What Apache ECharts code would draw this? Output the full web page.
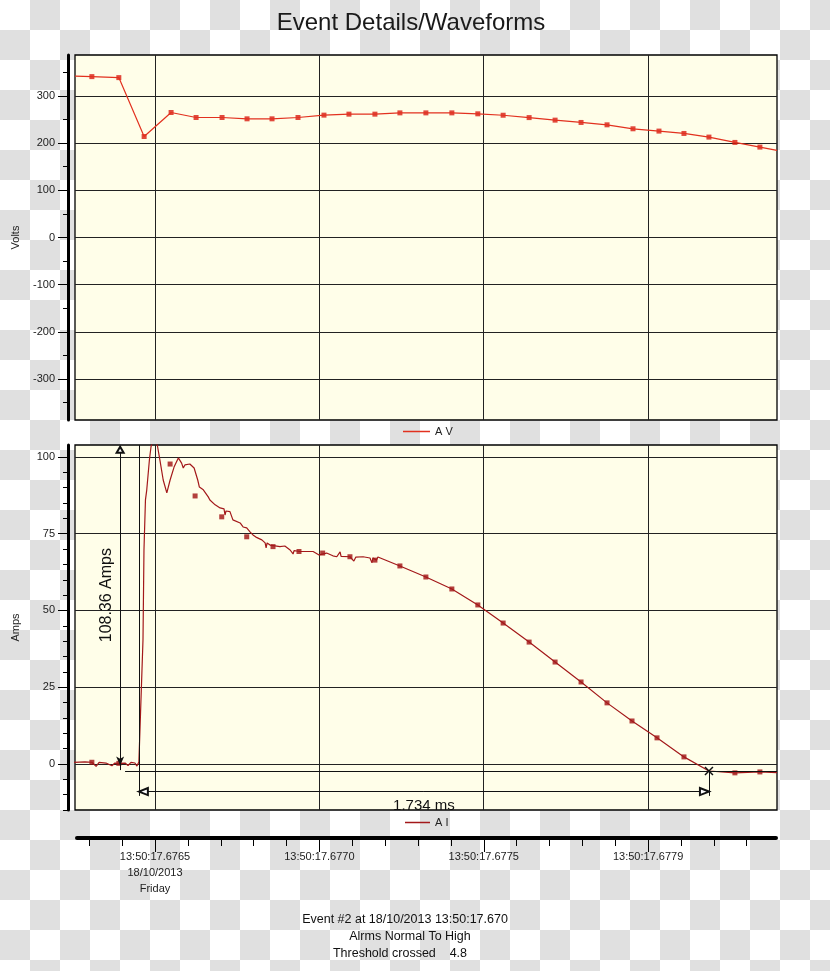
<!DOCTYPE html>
<html>
<head>
<meta charset="utf-8">
<script src="https://cdn.jsdelivr.net/npm/echarts@6/dist/echarts.min.js"></script>
<style>
html,body{margin:0;padding:0;}
#c{width:830px;height:971px;background:repeating-conic-gradient(#e0e0e0 0% 25%, #ffffff 0% 50%) 0 0/60px 60px;}
</style>
</head>
<body>
<div id="c"></div>
<script>
// ---- time axis: microseconds after 13:50:17.6765 ----
const timeMin = -243.3;
const timeMax = 1892;
const timeMajor = [0, 500, 1000, 1500];
const timeMinor = [-200,-100,0,100,200,300,400,500,600,700,800,900,1000,1100,1200,1300,1400,1500,1600,1700,1800];
const timeLabels = ['13:50:17.6765\n18/10/2013\nFriday', '13:50:17.6770', '13:50:17.6775', '13:50:17.6779'];

// ---- Volts panel ----
const voltMin = -386.6, voltMax = 386.6;
const voltTicks = [-300,-200,-100,0,100,200,300];
const voltMinorTicks = [-350,-250,-150,-50,50,150,250,350];
const voltTimes  = [-192,-110,-33,49,125,204,280,356,435,514,590,669,745,824,903,982,1059,1138,1217,1296,1375,1454,1533,1609,1685,1764,1840];
const voltValues = [340.8,338.7,214,264.8,254.2,254.2,251.4,251.4,254.2,259.2,261.3,261.3,264,264,264,262,259,254,248.6,243.7,238.7,230.3,225.4,220.4,212.7,201.4,191.5];
const voltEdgeTimes  = [-243, 1892];
const voltEdgeValues = [342, 184.5];

// ---- Amps panel ----
const ampMin = -15, ampMax = 103.9;
const ampTicks = [0,25,50,75,100];
const ampMinorTicks = [-15,-10,-5,5,10,15,20,30,35,40,45,55,60,65,70,80,85,90,95];
const ampWaveTimes = [-246,-213,-192,-179,-170,-149,-131,-122,-110,-91,-82,-73,-61,-55,-49,-43,-36.5,-33.5,-29,-25,-21,-17,-12,-6,0,7,15,25,36,46,58,71,81,86,91,106,119,130,135,147,162,167,183,198,210,213,216,228,237,259,268,279,289,298,307,325,335,338,341,350,380,395,411,420,423,441,481,499,502,522,541,553,563,566,593,605,611,633,654,660,663,674,678,745,824,903,982,1059,1138,1217,1296,1375,1451,1527,1609,1685,1764,1840,1892];
const ampWaveValues = [0.5,0.65,0.55,-0.8,0.5,0.3,-0.6,0.3,0.2,0.3,-0.5,0.5,0.3,-0.7,0.6,0.6,40.4,69.7,86,89.3,89.9,99,103.4,105.5,105.2,103.9,99,92.5,88.3,92.5,96.7,99.7,98,96.4,97.4,97.7,96.4,92.5,90.2,89.3,87,86,84.4,83.4,83.1,81.1,82.4,82.2,79.5,78.5,77.2,76.9,75.6,74.6,73.9,73.0,72.0,70.4,72.0,71.3,70.8,71.0,69.7,68.4,69.5,69.2,69.2,68.1,68.4,68.7,67.8,67.5,69.1,67.6,67.5,66.1,67.4,67.5,67.1,65.5,67.1,66.4,67.4,64.5,60.9,57.0,51.8,45.9,39.7,33.2,26.7,19.9,14.0,8.5,2.3,-2.3,-2.9,-2.6,-2.8];
const ampSampleTimes  = [-192,-110,46,122,203,279,359,438,510,593,669,745,824,903,982,1059,1138,1217,1296,1375,1451,1527,1609,1764,1840];
const ampSampleValues = [0.55,0.2,97.7,87.3,80.5,74.0,70.8,69.2,68.7,67.5,66.4,64.5,60.9,57.0,51.8,45.9,39.7,33.2,26.7,19.9,14.0,8.5,2.3,-2.9,-2.6];

// ---- cursor annotations ----
const peakCursorTime = -106, peakCursorFrom = -2.0, peakCursorTo = 103.3;
const peakLabel = '      108.36 Amps';
const startCursorTime = -49, endCursorTime = 1685;
const cursorBottom = -10.4;
const thresholdStart = -91, thresholdLevel = -2.4;
const spanLevel = -9.0;
const spanLabel = '1.734 ms';
const crossValue = -2.3;

const footerLines = ['Event #2 at 18/10/2013 13:50:17.670', 'Alrms Normal To High', 'Threshold crossed    4.8'];
const footerCenters = [405, 410, 400];

const FONT = '"Liberation Sans", Arial, sans-serif';
const zip = (a, b) => a.map((v, i) => [v, b[i]]);

const voltLineData = zip([voltEdgeTimes[0]].concat(voltTimes, [voltEdgeTimes[1]]),
                         [voltEdgeValues[0]].concat(voltValues, [voltEdgeValues[1]]));
const voltSampleData = zip(voltTimes, voltValues);
const ampWaveData = zip(ampWaveTimes, ampWaveValues);
const ampSampleData = zip(ampSampleTimes, ampSampleValues);

const plotGrid = (top) => ({left: 75, width: 702, top: top, height: 365, show: true,
  backgroundColor: '#fffee9', borderColor: '#000', borderWidth: 1.3});

const plotX = (gi) => ({gridIndex: gi, type: 'value', min: timeMin, max: timeMax, position: 'bottom',
  axisLine: {show: false}, axisTick: {show: false, customValues: timeMajor}, axisLabel: {show: false, customValues: timeMajor},
  splitLine: {show: true, lineStyle: {color: '#222', width: 1}}});

const mainY = (gi, mn, mx, ticks, name) => ({gridIndex: gi, type: 'value', min: mn, max: mx, position: 'left', offset: 7,
  axisLine: {show: true, onZero: false, lineStyle: {color: '#000', width: 3}},
  axisTick: {show: true, length: 10, customValues: ticks, lineStyle: {color: '#000', width: 1}},
  axisLabel: {show: true, customValues: ticks, margin: 13, color: '#222', fontSize: 11, fontFamily: FONT},
  splitLine: {show: true, lineStyle: {color: '#222', width: 1}},
  name: name, nameLocation: 'middle', nameRotate: 90, nameGap: 47,
  nameTextStyle: {color: '#222', fontSize: 11, fontFamily: FONT}});

const minorY = (gi, mn, mx, ticks) => ({gridIndex: gi, type: 'value', min: mn, max: mx, position: 'left', offset: 7,
  axisLine: {show: false, onZero: false}, axisTick: {show: true, length: 5, customValues: ticks, lineStyle: {color: '#000', width: 1}},
  axisLabel: {show: false, customValues: ticks}, splitLine: {show: false}});

const chart = echarts.init(document.getElementById('c'), null, {renderer: 'canvas'});
chart.setOption({
  animation: false,
  backgroundColor: 'transparent',
  title: {text: 'Event Details/Waveforms', left: 406, top: 6, textAlign: 'center',
    textStyle: {fontSize: 24, fontWeight: 'normal', color: '#1a1a1a', fontFamily: FONT}},
  legend: [
    {data: ['A V'], left: 403, top: 426, padding: 0, icon: 'rect', itemWidth: 27, itemHeight: 1.5, itemGap: 7,
      selectedMode: false, textStyle: {fontSize: 11, color: '#222', fontFamily: FONT}},
    {data: ['A I'], left: 405, top: 817, padding: 0, icon: 'rect', itemWidth: 25, itemHeight: 1.5, itemGap: 7,
      selectedMode: false, textStyle: {fontSize: 11, color: '#222', fontFamily: FONT}}
  ],
  grid: [plotGrid(55), plotGrid(445),
    {left: 77, width: 699, top: 837, height: 1, show: false},
    {left: 77, width: 699, top: 837, height: 1, show: false}],
  xAxis: [plotX(0), plotX(1),
    {gridIndex: 2, type: 'value', min: timeMin + 6, max: timeMax - 3, position: 'bottom',
      axisLine: {show: true, onZero: false, lineStyle: {color: '#000', width: 4}},
      axisTick: {show: true, length: 8, customValues: timeMinor, lineStyle: {color: '#000', width: 1}},
      axisLabel: {show: false, customValues: timeMinor}, splitLine: {show: false}},
    {gridIndex: 3, type: 'value', min: timeMin + 6, max: timeMax - 3, position: 'bottom',
      axisLine: {show: false, onZero: false},
      axisTick: {show: true, length: 14, customValues: timeMajor, lineStyle: {color: '#000', width: 1}},
      axisLabel: {show: true, customValues: timeMajor, margin: 11, color: '#222', fontSize: 11, lineHeight: 16, fontFamily: FONT,
        formatter: (v) => timeLabels[timeMajor.indexOf(Math.round(v))] || ''},
      splitLine: {show: false}}
  ],
  yAxis: [mainY(0, voltMin, voltMax, voltTicks, 'Volts'), minorY(0, voltMin, voltMax, voltMinorTicks),
          mainY(1, ampMin, ampMax, ampTicks, 'Amps'), minorY(1, ampMin, ampMax, ampMinorTicks),
          {gridIndex: 2, type: 'value', show: false}, {gridIndex: 3, type: 'value', show: false}],
  series: [
    {name: 'A V', type: 'line', xAxisIndex: 0, yAxisIndex: 0, data: voltLineData, showSymbol: false, clip: true,
      lineStyle: {color: '#e2311f', width: 1.2}, itemStyle: {color: '#e2311f'}},
    {name: 'A V', type: 'scatter', xAxisIndex: 0, yAxisIndex: 0, data: voltSampleData, symbol: 'rect', symbolSize: 5,
      itemStyle: {color: '#d91c10'}},
    {name: 'A I', type: 'line', xAxisIndex: 1, yAxisIndex: 2, data: ampWaveData, showSymbol: false, clip: true,
      lineStyle: {color: '#a3181a', width: 1.2}, itemStyle: {color: '#a3181a'},
      markLine: {silent: true, symbol: 'none', animation: false,
        lineStyle: {color: '#111', width: 1, type: 'solid'},
        label: {show: false},
        data: [
          [{coord: [peakCursorTime, peakCursorFrom], symbol: 'arrow', symbolSize: [6, 9], symbolOffset: [0, 4.5],
            label: {show: true, formatter: peakLabel, position: 'insideMiddleTop', distance: 6, color: '#111', fontSize: 16, fontFamily: FONT}},
           {coord: [peakCursorTime, peakCursorTo], symbol: 'emptyTriangle', symbolSize: [7, 6], symbolOffset: [0, 3]}],
          [{coord: [startCursorTime, ampMax]}, {coord: [startCursorTime, cursorBottom]}],
          [{coord: [thresholdStart, thresholdLevel]}, {coord: [timeMax, thresholdLevel]}],
          [{coord: [startCursorTime, spanLevel], symbol: 'emptyTriangle', symbolSize: [7, 9], symbolOffset: [0, 4.5],
            label: {show: true, formatter: spanLabel, position: 'insideMiddleBottom', distance: 7, color: '#111', fontSize: 15, fontFamily: FONT}},
           {coord: [endCursorTime, spanLevel], symbol: 'emptyTriangle', symbolSize: [7, 9], symbolOffset: [0, 4.5]}],
          [{coord: [endCursorTime, crossValue]}, {coord: [endCursorTime, cursorBottom]}]
        ]},
      markPoint: {silent: true, animation: false,
        data: [{coord: [endCursorTime, crossValue], symbol: 'path://M0,0L10,10M10,0L0,10', symbolSize: 8,
          itemStyle: {color: 'none', borderColor: '#111', borderWidth: 1.5}, label: {show: false}}]}},
    {name: 'A I', type: 'scatter', xAxisIndex: 1, yAxisIndex: 2, data: ampSampleData, symbol: 'rect', symbolSize: 5,
      itemStyle: {color: '#a01010'}}
  ],
  graphic: footerLines.map((t, i) => ({type: 'text', x: footerCenters[i], y: 913 + i * 17,
    style: {text: t, fill: '#111', font: '12.5px ' + FONT, textAlign: 'center'}}))
});
</script>
</body>
</html>
